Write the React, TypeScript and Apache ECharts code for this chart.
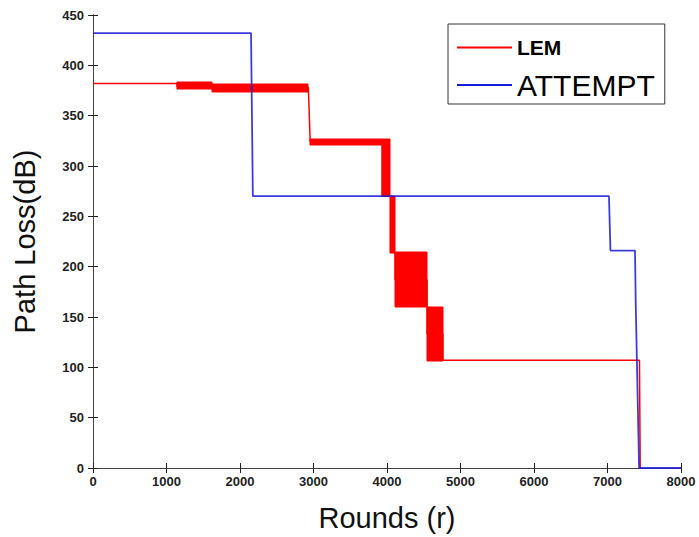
import React, { useEffect, useRef } from "react";
import * as echarts from "echarts";

// LEM path (step line through the middle of its oscillation bands)
const lemPoints: number[][] = [
  [0, 382], [1143, 382], [1143, 379], [1619, 379], [1619, 378], [2930, 378],
  [2955, 324], [3935, 324], [3935, 270], [4050, 270], [4050, 214], [4110, 214],
  [4110, 187], [4545, 187], [4545, 133], [4760, 133], [4760, 107], [7435, 107],
  [7445, 0],
];
// LEM oscillation bands: [xStart, xEnd, yLow, yHigh]
const lemBands: number[][] = [
  [1143, 1619, 376, 383],
  [1619, 2930, 374, 381],
  [2950, 3935, 321, 327],
  [3930, 4040, 270, 327],
  [4040, 4110, 214, 270],
  [4110, 4545, 160, 215],
  [4545, 4760, 106, 160],
];
// ATTEMPT path
const attemptPoints: number[][] = [
  [0, 432], [2150, 432], [2175, 270], [7020, 270], [7040, 216], [7374, 216],
  [7385, 160], [7430, 0], [8000, 0],
];
const xTicks = { min: 0, max: 8000, interval: 1000 };
const yTicks = { min: 0, max: 450, interval: 50 };
const seriesNames = ["LEM", "ATTEMPT"];

export default function App() {
  const ref = useRef<HTMLDivElement>(null);
  useEffect(() => {
    if (!ref.current) return;
    const chart = echarts.init(ref.current, null, { renderer: "svg" });
    const axisLine = { show: true, lineStyle: { color: "#444", width: 1 } };
    const tickIn = { show: true, inside: true, length: 5, lineStyle: { color: "#222" } };
    const labelStyle = {
      color: "#222", fontSize: 13, fontWeight: "bold",
      fontFamily: "Liberation Sans, Arial, sans-serif",
      formatter: (v: number) => String(v),
    };
    chart.setOption({
      animation: false,
      backgroundColor: "#fff",
      grid: { left: 93, right: 18, top: 15, bottom: 64, containLabel: false },
      legend: {
        orient: "vertical",
        left: 448,
        top: 24,
        padding: [13, 10, 4, 9],
        itemGap: 12,
        itemWidth: 55,
        itemHeight: 2,
        icon: "rect",
        backgroundColor: "#fff",
        borderColor: "#333",
        borderWidth: 1,
        borderRadius: 0,
        data: [
          { name: seriesNames[0], textStyle: { fontSize: 21, fontWeight: "bold", color: "#000", fontFamily: "Liberation Sans, Arial, sans-serif" } },
          { name: seriesNames[1], textStyle: { fontSize: 30, color: "#000", fontFamily: "Liberation Sans, Arial, sans-serif" } },
        ],
      },
      xAxis: [
        {
          type: "value", ...xTicks, position: "bottom",
          name: "Rounds (r)", nameLocation: "middle", nameGap: 35,
          nameTextStyle: { fontSize: 29, color: "#111", fontFamily: "Liberation Sans, Arial, sans-serif" },
          axisLine, axisTick: tickIn, splitLine: { show: false },
          axisLabel: { ...labelStyle, margin: 7 },
        },
        {
          type: "value", ...xTicks, position: "top",
          axisLine, axisTick: tickIn, splitLine: { show: false }, axisLabel: { show: false },
        },
      ],
      yAxis: [
        {
          type: "value", ...yTicks, position: "left",
          name: "Path Loss(dB)", nameLocation: "middle", nameGap: 54,
          nameTextStyle: { fontSize: 29, color: "#111", fontFamily: "Liberation Sans, Arial, sans-serif" },
          axisLine, axisTick: tickIn, splitLine: { show: false },
          axisLabel: { ...labelStyle, margin: 9 },
        },
        {
          type: "value", ...yTicks, position: "right",
          axisLine, axisTick: tickIn, splitLine: { show: false }, axisLabel: { show: false },
        },
      ],
      series: [
        {
          name: "LEM bands",
          type: "custom",
          xAxisIndex: 0, yAxisIndex: 0,
          encode: { x: [0, 1], y: [2, 3] },
          data: lemBands,
          renderItem: (params: any, api: any) => {
            const p0 = api.coord([api.value(0), api.value(3)]);
            const p1 = api.coord([api.value(1), api.value(2)]);
            const x0 = Math.round(p0[0]);
            const y0 = Math.round(p0[1]);
            const x1 = Math.round(p1[0]);
            const y1 = Math.round(p1[1]);
            return {
              type: "polygon",
              shape: { points: [[x0, y0], [x1, y0], [x1, y1], [x0, y1]] },
              style: { fill: "#ff0000", stroke: "#ff0000", lineWidth: 1 },
            };
          },
          z: 2,
        },
        {
          name: seriesNames[0],
          type: "line",
          data: lemPoints,
          showSymbol: false,
          color: "#ff0000",
          lineStyle: { color: "#ff0000", width: 1.5 },
          z: 3,
        },
        {
          name: seriesNames[1],
          type: "line",
          data: attemptPoints,
          showSymbol: false,
          color: "#1a1ad8",
          lineStyle: { color: "#1a1ad8", width: 1.8, opacity: 0.85 },
          z: 4,
        },
      ],
    });
    return () => chart.dispose();
  }, []);
  return (
    <div
      ref={ref}
      style={{ position: "fixed", left: 0, top: 0, width: 699, height: 537, background: "#fff" }}
    />
  );
}
